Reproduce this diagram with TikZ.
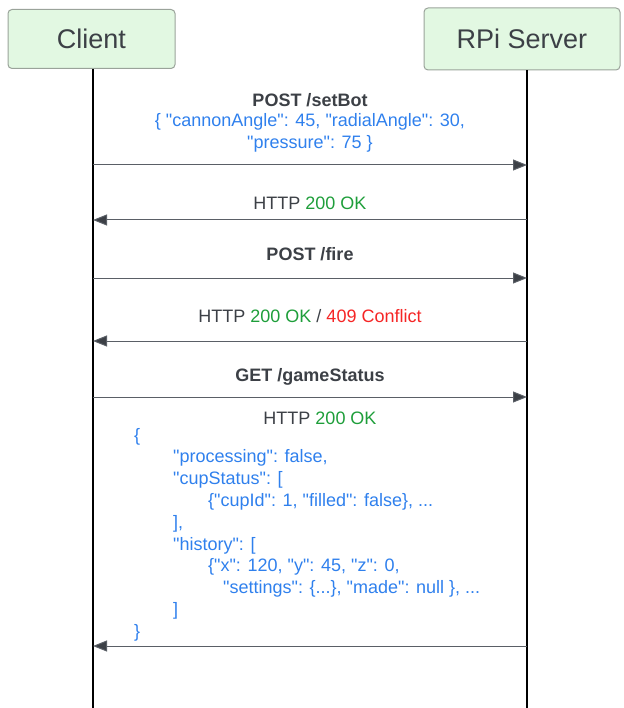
\documentclass[tikz,border=0pt]{standalone}
\usepackage{fontspec}
\setmainfont{Liberation Sans}[Ligatures=TeXOff]
\usetikzlibrary{arrows.meta}
\definecolor{txtgray}{HTML}{3C4046}
\definecolor{jblue}{HTML}{2F80ED}
\definecolor{okgreen}{HTML}{1E9E3A}
\definecolor{errred}{HTML}{F52525}
\definecolor{boxfill}{HTML}{E2F8E2}
\definecolor{boxline}{HTML}{9AA39A}
\definecolor{msgline}{HTML}{5A5F66}
\tikzset{
  actor/.style={draw=boxline, line width=1pt, fill=boxfill, rounded corners=4pt, inner sep=0pt, font=\fontsize{27}{30}\selectfont, text=txtgray},
  lifeline/.style={line width=2pt, black},
  msg/.style={draw=msgline, line width=1pt, -{Triangle[length=14pt,width=11pt,fill=txtgray]}},
  lbl/.style={font=\fontsize{18}{21.8}\selectfont, text=txtgray, inner sep=0pt},
  blbl/.style={font=\bfseries\fontsize{18}{21.8}\selectfont, text=txtgray, inner sep=0pt},
  jsn/.style={font=\fontsize{18}{21.8}\selectfont, text=jblue, inner sep=0pt, anchor=base west},
}
\begin{document}
\begin{tikzpicture}[x=1pt,y=-1pt]
\useasboundingbox (0,0) rectangle (623,708);
% actors
\node[actor, minimum width=167pt, minimum height=59pt] (client) at (91.5,39) {Client};
\node[actor, minimum width=196pt, minimum height=62pt] (server) at (522,39) {RPi Server};
\coordinate (cbot) at (93,708);
\coordinate (sbot) at (527,708);
\draw[lifeline] (client.south -| cbot) -- (cbot);
\draw[lifeline] (server.south -| sbot) -- (sbot);
% message endpoints
\foreach \n/\y in {1/165,2/220,3/278,4/341,5/397,6/646}{
  \coordinate (c\n) at (93,\y);
  \coordinate (s\n) at (527,\y);
}
\draw[msg] (c1) -- (s1);
\draw[msg] (s2) -- (c2);
\draw[msg] (c3) -- (s3);
\draw[msg] (s4) -- (c4);
\draw[msg] (c5) -- (s5);
\draw[msg] (s6) -- (c6);
% labels
\node[blbl] (m1) at (310,100) {POST /setBot};
\node[lbl, text=jblue, align=center] (m1b) at (310,132.5) {\{ "cannonAngle": 45, "radialAngle": 30,\\ "pressure": 75 \}};
\node[lbl] (m2) at (310,203) {HTTP \textcolor{okgreen}{200 OK}};
\node[blbl] (m3) at (310,254) {POST /fire};
\node[lbl] (m4) at (310,316) {HTTP \textcolor{okgreen}{200 OK} / \textcolor{errred}{409 Conflict}};
\node[blbl] (m5) at (310,377) {GET /gameStatus};
\node[lbl] (m6) at (320,418) {HTTP \textcolor{okgreen}{200 OK}};
% JSON body
\node[jsn] (j0) at (134,441) {\{};
\node[jsn] (j1) at (173,462.8) {"processing": false,};
\node[jsn] (j2) at (173,484.6) {"cupStatus": [};
\node[jsn] (j3) at (208,506.4) {\{"cupId": 1, "filled": false\}, ...};
\node[jsn] (j4) at (173,528.2) {],};
\node[jsn] (j5) at (173,550) {"history": [};
\node[jsn] (j6) at (208,571.8) {\{"x": 120, "y": 45, "z": 0,};
\node[jsn] (j7) at (223,593.6) {"settings": \{...\}, "made": null \}, ...};
\node[jsn] (j8) at (173,615.4) {]};
\node[jsn] (j9) at (134,637.2) {\}};
\end{tikzpicture}
\end{document}
